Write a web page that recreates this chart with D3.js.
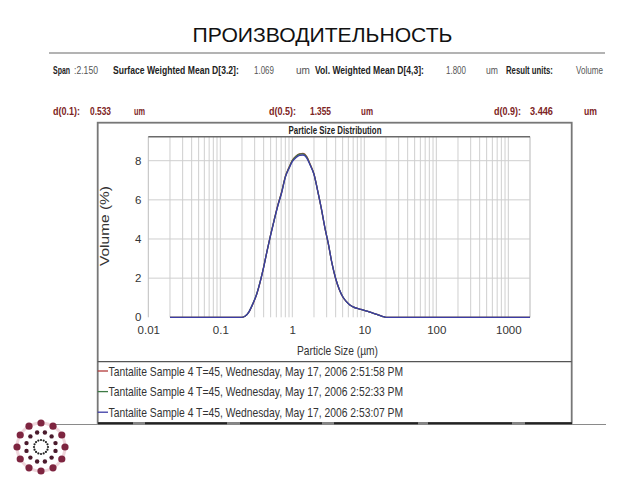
<!DOCTYPE html>
<html><head><meta charset="utf-8">
<script src="https://cdn.jsdelivr.net/npm/d3@7"></script>
<style>html,body{margin:0;padding:0;background:#fff;}svg{display:block;}</style>
</head><body>
<script>
// ---------- data ----------
const sizes = [0.02,0.05,0.1,0.15,0.2,0.22,0.25,0.28,0.32,0.36,0.4,0.45,0.5,0.56,0.63,0.71,0.8,0.9,1.0,1.12,1.26,1.41,1.58,1.78,2.0,2.24,2.52,2.83,3.17,3.56,4.0,4.5,5.0,5.6,6.3,7.1,8.0,9.0,10,11.2,12.6,14.1,15.9,17.8,20,50,100,200,500,1000,2000];
const seriesBlue  = [0,0,0,0,0,0.05,0.28,0.65,1.18,1.85,2.55,3.45,4.2,4.95,5.7,6.35,7.15,7.6,7.95,8.15,8.27,8.29,8.15,7.75,7.3,6.5,5.6,4.6,3.75,2.75,1.98,1.42,1.06,0.81,0.63,0.52,0.45,0.4,0.35,0.3,0.24,0.18,0.11,0.05,0,0,0,0,0,0,0];
const seriesRed   = [0,0,0,0,0,0.05,0.27,0.64,1.17,1.84,2.56,3.46,4.22,4.98,5.74,6.4,7.2,7.66,8.02,8.23,8.35,8.37,8.22,7.8,7.32,6.5,5.58,4.58,3.73,2.74,1.97,1.41,1.05,0.81,0.63,0.52,0.45,0.4,0.35,0.3,0.24,0.18,0.11,0.05,0,0,0,0,0,0,0];
const seriesGreen = [0,0,0,0,0,0.05,0.28,0.66,1.19,1.86,2.56,3.46,4.21,4.97,5.72,6.38,7.18,7.64,8.0,8.21,8.33,8.35,8.2,7.78,7.31,6.5,5.59,4.59,3.74,2.75,1.98,1.42,1.06,0.81,0.63,0.52,0.45,0.4,0.35,0.3,0.24,0.18,0.11,0.05,0,0,0,0,0,0,0];
const seriesNames = ["Tantalite Sample 4 T=45, Wednesday, May 17, 2006 2:51:58 PM",
                     "Tantalite Sample 4 T=45, Wednesday, May 17, 2006 2:52:33 PM",
                     "Tantalite Sample 4 T=45, Wednesday, May 17, 2006 2:53:07 PM"];
const seriesColors = ["#b23a3a","#3d7a45","#3c3ca6"];
const xTicks = [0.01,0.1,1,10,100,1000];
const xTickLabels = ["0.01","0.1","1","10","100","1000"];
const yTicks = [0,2,4,6,8];
const statsRow1 = [
  {t:"Span", x:53, w:17, c:"#222", b:true},
  {t:":2.150", x:74, w:24, c:"#555", b:false},
  {t:"Surface Weighted Mean D[3.2]:", x:113, w:126, c:"#222", b:true},
  {t:"1.069", x:254, w:20, c:"#555", b:false},
  {t:"um", x:296, w:14, c:"#555", b:false},
  {t:"Vol. Weighted Mean D[4,3]:", x:315, w:109, c:"#222", b:true},
  {t:"1.800", x:446, w:20, c:"#555", b:false},
  {t:"um", x:486, w:12, c:"#555", b:false},
  {t:"Result units:", x:506, w:47, c:"#222", b:true},
  {t:"Volume", x:576, w:27, c:"#555", b:false}
];
const statsRow2 = [
  {t:"d(0.1):", x:53, w:27}, {t:"0.533", x:90, w:21}, {t:"um", x:134, w:11},
  {t:"d(0.5):", x:269, w:27}, {t:"1.355", x:310, w:21}, {t:"um", x:361, w:12},
  {t:"d(0.9):", x:494, w:27}, {t:"3.446", x:530, w:23}, {t:"um", x:584, w:13}
];

// ---------- drawing ----------
const W = 640, H = 480;
const FONT = "'Liberation Sans', Arial, sans-serif";
const svg = d3.select("body").append("svg").attr("width", W).attr("height", H);

// helper: text squeezed horizontally to a target width (via scaleX)
function fitText(parent, str, x0, y0, w, opts) {
  const g = parent.append("g");
  const t = g.append("text").attr("x",0).attr("y",0)
    .attr("font-family", FONT).attr("font-size", opts.size)
    .attr("font-weight", opts.bold ? "bold" : "normal")
    .attr("fill", opts.fill).attr("text-anchor", opts.anchor || "start").text(str);
  const nat = t.node().getComputedTextLength() || w;
  const sx = w / nat;
  g.attr("transform", `translate(${x0},${y0}) ${opts.rotate ? "rotate(" + opts.rotate + ") " : ""}scale(${sx},1)`);
  return t;
}

// Title
fitText(svg, "ПРОИЗВОДИТЕЛЬНОСТЬ", 322.5, 42, 260, {size:21, fill:"#111", anchor:"middle"});

// top rule
svg.append("line").attr("x1",49).attr("x2",605).attr("y1",53).attr("y2",53)
  .attr("stroke","#9a9a9a").attr("stroke-width",1.5);

// stats rows
statsRow1.forEach(d => fitText(svg, d.t, d.x, 74, d.w, {size:10, bold:d.b, fill:d.c}));
statsRow2.forEach(d => fitText(svg, d.t, d.x, 115, d.w, {size:10, bold:true, fill:"#7d2424"}));

// outer chart box
svg.append("rect").attr("x",97.7).attr("y",122.7).attr("width",474).attr("height",300.3)
  .attr("fill","none").attr("stroke","#777").attr("stroke-width",1.8);
svg.append("line").attr("x1",97.7).attr("x2",571.7).attr("y1",361.7).attr("y2",361.7)
  .attr("stroke","#555").attr("stroke-width",1.3);

// scales
const x = d3.scaleLog().domain([0.01, 2000]).range([148.3, 530]);
const y = d3.scaleLinear().domain([0, 9.226]).range([317.3, 136.7]);

// grid vertical
const vgrid = [];
for (let e = -2; e <= 3; e++) for (let k = 1; k <= 9; k++) {
  const v = k * Math.pow(10, e);
  if (v >= 0.02 && v <= 2000) vgrid.push(v);
}
vgrid.push(2000);
svg.append("g").selectAll("line").data(vgrid).enter().append("line")
  .attr("x1", d=>x(d)).attr("x2", d=>x(d)).attr("y1", y(9.226)).attr("y2", y(0))
  .attr("stroke","#cfcfcf").attr("stroke-width",1);
// grid horizontal
svg.append("g").selectAll("line").data(yTicks.filter(d=>d>0)).enter().append("line")
  .attr("x1", x(0.01)).attr("x2", x(2000)).attr("y1", d=>y(d)).attr("y2", d=>y(d))
  .attr("stroke","#cfcfcf").attr("stroke-width",1);
// plot frame
svg.append("line").attr("x1",x(0.01)).attr("x2",x(0.01)).attr("y1",y(9.226)).attr("y2",y(0))
  .attr("stroke","#bdbdbd");
svg.append("line").attr("x1",x(0.01)).attr("x2",x(2000)).attr("y1",y(9.226)).attr("y2",y(9.226))
  .attr("stroke","#6a6a6a").attr("stroke-width",1.5);

// axes (labels only)
const xAxis = d3.axisBottom(x).tickValues(xTicks).tickFormat((d,i)=>xTickLabels[i]).tickSize(0).tickPadding(7);
const gx = svg.append("g").attr("transform",`translate(0,${y(0)+2})`).call(xAxis);
gx.select(".domain").remove();
gx.selectAll("text").attr("font-family",FONT).attr("font-size",11.5).attr("fill","#333");
const yAxis = d3.axisLeft(y).tickValues(yTicks).tickSize(0).tickPadding(7);
const gy = svg.append("g").attr("transform",`translate(${x(0.01)},0)`).call(yAxis);
gy.select(".domain").remove();
gy.selectAll("text").attr("font-family",FONT).attr("font-size",11.5).attr("fill","#333");

// chart title & axis titles
fitText(svg, "Particle Size Distribution", 335, 133.5, 93, {size:10, bold:true, fill:"#222", anchor:"middle"});
fitText(svg, "Particle Size (µm)", 337.5, 354.5, 81, {size:13, fill:"#333", anchor:"middle"});
fitText(svg, "Volume (%)", 109, 226, 80, {size:13, fill:"#333", anchor:"middle", rotate:-90});

// lines
const allSeries = [seriesRed, seriesGreen, seriesBlue];
const line = d3.line().x((d,i)=>x(sizes[i])).y(d=>y(d)).curve(d3.curveMonotoneX);
allSeries.forEach((s,i)=>{
  svg.append("path").datum(s).attr("d", line).attr("fill","none")
    .attr("stroke", seriesColors[i]).attr("stroke-width",1.3);
});

// legend
seriesNames.forEach((name,i)=>{
  const yy = 371 + i*20.6;
  svg.append("line").attr("x1",97.7).attr("x2",108).attr("y1",yy).attr("y2",yy)
    .attr("stroke",seriesColors[i]).attr("stroke-width",1.3);
  fitText(svg, name, 108.5, yy+4.5, 295, {size:12.5, fill:"#333"});
});

// bottom rules
svg.append("line").attr("x1",53).attr("x2",606).attr("y1",424.5).attr("y2",424.5)
  .attr("stroke","#8a8a8a").attr("stroke-width",1);
const segs = [[98,133],[145,227],[240,322],[334,418],[428,512],[525,572]];
svg.append("g").selectAll("line").data(segs).enter().append("line")
  .attr("x1",d=>d[0]).attr("x2",d=>d[1]).attr("y1",423.3).attr("y2",423.3)
  .attr("stroke","#222").attr("stroke-width",2);

// logo
const lc = [41, 447];
const logo = svg.append("g").attr("transform",`translate(${lc[0]},${lc[1]})`);
logo.append("circle").attr("r",24).attr("fill","none").attr("stroke","#efd6dc").attr("stroke-width",3);
const outer = d3.range(12).map(i=>i*30-90);
logo.selectAll("circle.o").data(outer).enter().append("circle")
  .attr("cx",a=>24*Math.cos(a*Math.PI/180)).attr("cy",a=>24*Math.sin(a*Math.PI/180))
  .attr("r",3.6).attr("fill","#7e2540");
const mid = d3.range(12).map(i=>i*30-75);
logo.selectAll("circle.m").data(mid).enter().append("circle")
  .attr("cx",a=>15*Math.cos(a*Math.PI/180)).attr("cy",a=>15*Math.sin(a*Math.PI/180))
  .attr("r",2.2).attr("fill","#4a1a2c");
const inner = d3.range(16).map(i=>i*22.5);
logo.selectAll("circle.i").data(inner).enter().append("circle")
  .attr("cx",a=>7*Math.cos(a*Math.PI/180)).attr("cy",a=>7*Math.sin(a*Math.PI/180))
  .attr("r",1.1).attr("fill","#222");
</script>
</body></html>
